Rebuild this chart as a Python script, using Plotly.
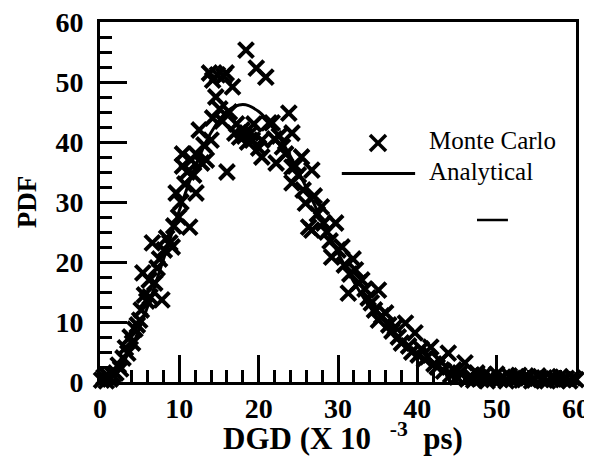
import plotly.graph_objects as go

# Monte Carlo samples (DGD in 1e-3 ps, PDF)
mc_x = [0.2, 0.5, 0.8, 1.0, 1.3, 1.6, 2.0, 2.3, 2.6, 2.9, 3.2, 3.5, 3.8, 4.1, 4.4, 4.7,
        5.0, 5.2, 5.4, 5.6, 5.9, 6.2, 6.3, 6.6, 6.9, 7.2, 7.5, 7.8, 8.1, 8.4, 8.8, 9.1,
        9.3, 9.6, 9.9,
        10.2, 10.4, 10.4, 10.7, 11.0, 11.3, 11.5, 11.8, 12.1, 12.1, 12.5, 12.8, 13.1,
        13.4, 13.8, 14.0, 14.2, 14.2, 14.6, 14.8, 15.1, 15.4, 15.6, 15.9, 16.0, 16.3,
        16.7, 17.0, 17.2, 17.6, 17.9, 18.2, 18.4, 18.6, 19.0, 19.2, 19.4, 19.7, 20.0,
        20.4, 20.4,
        20.9, 21.3, 21.7, 22.0, 22.2, 22.6, 23.0, 23.4, 23.8, 24.2, 24.2, 24.2, 24.6,
        25.0, 25.4, 25.6, 25.9, 26.3, 26.7, 26.7, 27.0, 27.4, 27.9, 28.2, 28.6, 29.0,
        29.2, 29.7, 30.0,
        30.5, 30.8, 31.3, 31.5, 31.9, 32.2, 32.6, 33.0, 33.4, 33.8, 34.2, 34.6, 35.1,
        35.1, 35.5, 36.0, 36.4, 36.8, 37.2, 37.6, 38.0, 38.5, 38.9, 39.3, 39.7,
        40.1, 40.5, 40.9, 41.3, 41.7, 42.1, 42.5, 42.9, 43.3, 43.9, 44.2, 44.6, 45.0,
        45.4, 46.0, 46.3, 46.7, 47.1, 47.5, 48.0, 48.4, 48.8, 49.2, 49.6, 50.0, 50.4,
        50.8, 51.2, 51.6, 52.0, 52.4, 52.8, 53.2, 53.6, 54.0, 54.4, 54.8, 55.2, 55.6,
        56.0, 56.4, 56.8, 57.2, 57.6, 58.0, 58.4, 58.8, 59.2, 59.6, 60.0]
mc_y = [0.3, 0.8, 0.2, 1.0, 0.5, 1.2, 1.5, 2.8, 2.2, 4.0, 5.7, 4.8, 7.5, 6.5, 8.8, 9.5,
        10.3, 12.0, 18.2, 14.5, 13.5, 17.0, 14.2, 23.2, 16.5, 19.0, 20.5, 13.7, 22.0,
        24.0, 23.2, 22.5, 26.0, 31.5, 27.5,
        30.0, 38.0, 36.0, 33.0, 35.0, 25.8, 37.0, 34.5, 38.0, 31.5, 42.0, 36.5, 39.5,
        37.0, 51.5, 40.3, 44.0, 50.3, 47.5, 51.2, 45.5, 43.5, 51.0, 51.5, 35.0, 45.0,
        49.2, 41.5, 43.0, 40.8, 42.0, 41.0, 55.3, 40.0, 41.5, 40.3, 43.0, 52.3, 39.0,
        37.5, 40.3,
        50.8, 43.2, 43.2, 40.5, 36.5, 41.0, 39.2, 38.0, 44.8, 41.5, 35.8, 33.2, 36.0,
        34.5, 37.5, 32.0, 29.8, 25.8, 35.3, 25.3, 31.0, 28.0, 29.2, 26.5, 25.0, 23.5,
        20.8, 26.5, 22.0,
        22.5, 19.5, 14.8, 18.0, 20.5, 18.7, 16.5, 17.0, 15.5, 14.0, 13.2, 12.0, 15.3,
        10.3, 11.0, 11.5, 9.5, 8.5, 9.2, 7.5, 6.5, 9.8, 6.0, 5.0, 8.2,
        4.5, 5.5, 3.8, 4.2, 5.8, 3.0, 2.5, 3.5, 1.8, 4.8, 1.2, 2.0, 0.8,
        1.5, 3.2, 0.5, 1.0, 0.3, 1.5, 0.6, 1.2, 0.2, 0.9, 0.4, 1.3, 0.5,
        0.8, 0.2, 1.0, 0.4, 0.7, 1.1, 0.3, 0.6, 0.9, 0.2, 0.5, 1.0, 0.4,
        0.7, 0.2, 0.8, 0.5, 0.3, 0.9, 0.4, 0.6, 0.2, 0.7, 0.4]

# Analytical curve
an_x = [0, 2, 4, 6, 8, 10, 12, 14, 16, 18, 20, 22, 24, 26, 28, 30, 32, 34, 36, 38,
        40, 42, 44, 46, 48, 50, 52, 54, 56, 58, 60]
an_y = [0.0, 1.54, 5.93, 12.54, 20.44, 28.57, 35.90, 41.58, 45.09, 46.23, 45.09,
        42.04, 37.63, 32.39, 26.87, 21.53, 16.67, 12.50, 9.08, 6.40, 4.37, 2.90,
        1.86, 1.17, 0.71, 0.42, 0.24, 0.13, 0.07, 0.04, 0.02]

tick_vals = [0, 10, 20, 30, 40, 50, 60]
tick_text = ["0", "10", "20", "30", "40", "50", "60"]

FONT = "Liberation Serif"

fig = go.Figure()
fig.add_trace(go.Scatter(
    x=an_x, y=an_y, mode="lines", name="Analytical",
    line=dict(color="black", width=3, shape="spline"),
    cliponaxis=False, showlegend=False))
fig.add_trace(go.Scatter(
    x=mc_x, y=mc_y, mode="markers", name="Monte Carlo",
    marker=dict(symbol="x-thin", size=15, color="black",
                line=dict(color="black", width=4)),
    cliponaxis=False, showlegend=False))

axis_common = dict(
    range=[0, 60], showgrid=False, zeroline=False, automargin=False,
    showline=True, linecolor="black", linewidth=3, mirror=True,
    ticks="inside", tickcolor="black", tickwidth=2.5, ticklen=27,
    tickvals=tick_vals, ticktext=tick_text, ticklabeloverflow="allow",
    tickfont=dict(family=FONT, size=28, color="black", weight="bold"),
)

fig.update_xaxes(**axis_common,
                 minor=dict(ticks="inside", dtick=2, ticklen=12, tickwidth=2.5, tickcolor="black"),
                 ticklabelstandoff=-1)
fig.update_yaxes(**axis_common,
                 minor=dict(ticks="inside", dtick=2.5, ticklen=12, tickwidth=2.5, tickcolor="black"),
                 ticklabelstandoff=8)

shapes = [
    # legend: X marker
    dict(type="line", xref="paper", yref="paper", xsizemode="pixel", ysizemode="pixel",
         xanchor=0.584, yanchor=0.664, x0=-8, x1=8, y0=-8, y1=8,
         line=dict(color="black", width=3.5)),
    dict(type="line", xref="paper", yref="paper", xsizemode="pixel", ysizemode="pixel",
         xanchor=0.584, yanchor=0.664, x0=-8, x1=8, y0=8, y1=-8,
         line=dict(color="black", width=3.5)),
    # legend: line sample
    dict(type="line", xref="paper", yref="paper", x0=0.508, x1=0.662, y0=0.579, y1=0.579,
         line=dict(color="black", width=3)),
    # small dash
    dict(type="line", xref="paper", yref="paper", x0=0.792, x1=0.857, y0=0.45, y1=0.45,
         line=dict(color="black", width=2.5)),
]
annotations = [
    dict(text="Monte Carlo", xref="paper", yref="paper", x=0.687, y=0.672,
         xanchor="left", yanchor="middle", showarrow=False,
         font=dict(family=FONT, size=25, color="black")),
    dict(text="Analytical", xref="paper", yref="paper", x=0.687, y=0.586,
         xanchor="left", yanchor="middle", showarrow=False,
         font=dict(family=FONT, size=25, color="black")),
    # axis titles
    dict(text="DGD (X 10 <sup>  -3</sup>  ps)", xref="paper", yref="paper",
         x=0.511, y=-0.21, xanchor="center", yanchor="bottom", showarrow=False,
         font=dict(family=FONT, size=31, color="black", weight="bold")),
    dict(text="PDF", xref="paper", yref="paper", textangle=-90,
         x=-0.153, y=0.5, xanchor="center", yanchor="middle", showarrow=False,
         font=dict(family=FONT, size=27, color="black", weight="bold")),
]

# page body adds an 8px offset, so margins are shifted by 8px
fig.update_layout(
    width=592, height=459,
    margin=dict(l=92, r=24, t=14, b=85, autoexpand=False),
    paper_bgcolor="white", plot_bgcolor="white",
    shapes=shapes, annotations=annotations,
    showlegend=False,
)

fig.write_html("out.html")
